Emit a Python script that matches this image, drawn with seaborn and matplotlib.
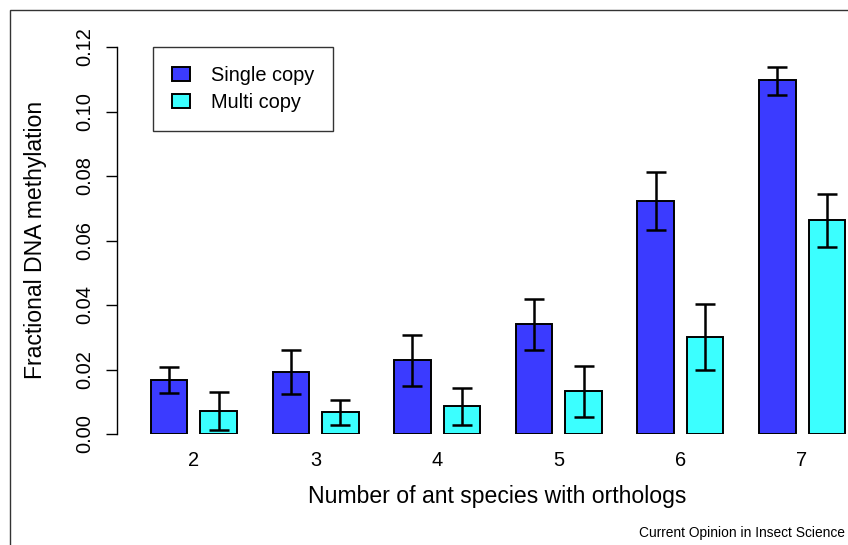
import numpy as np
import pandas as pd
import matplotlib
matplotlib.use("Agg")
import matplotlib.pyplot as plt
import seaborn as sns
from matplotlib.patches import Patch, Rectangle
from matplotlib.container import BarContainer

# ---- data ----
species = ["2", "3", "4", "5", "6", "7"]
series = ["Single copy", "Multi copy"]
single_mean = [0.0167, 0.0193, 0.0229, 0.0341, 0.0723, 0.1098]
single_lo = [0.0127, 0.0123, 0.0150, 0.0261, 0.0633, 0.1051]
single_hi = [0.0208, 0.0261, 0.0307, 0.0420, 0.0813, 0.1138]
multi_mean = [0.0071, 0.0069, 0.0087, 0.0132, 0.0301, 0.0663]
multi_lo = [0.0012, 0.0029, 0.0027, 0.0054, 0.0198, 0.0581]
multi_hi = [0.0129, 0.0104, 0.0144, 0.0210, 0.0404, 0.0744]
colors = ["#3B3BFF", "#3BFFFF"]
y_ticks = [0.00, 0.02, 0.04, 0.06, 0.08, 0.10, 0.12]

sns.set_theme(style="white")
plt.rcParams["font.family"] = ["Liberation Sans", "DejaVu Sans"]
plt.rcParams["text.color"] = "black"
plt.rcParams["xtick.color"] = "black"
plt.rcParams["ytick.color"] = "black"
plt.rcParams["xtick.labelcolor"] = "black"
plt.rcParams["ytick.labelcolor"] = "black"
plt.rcParams["legend.labelcolor"] = "black"

df = pd.DataFrame({
    "species": species * 2,
    "series": [series[0]] * len(species) + [series[1]] * len(species),
    "value": single_mean + multi_mean,
})
lows = [single_lo, multi_lo]
highs = [single_hi, multi_hi]
means = [single_mean, multi_mean]

W, H = 848, 545
fig = plt.figure(figsize=(W / 100, H / 100), dpi=100)
ax = fig.add_axes([117 / W, (H - 434) / H, (848 - 117) / W, 387 / H])

sns.barplot(data=df, x="species", y="value", hue="series", order=species,
            hue_order=series, palette=colors, width=0.814, gap=0.263,
            edgecolor="black", linewidth=1.4, errorbar=None, legend=False,
            saturation=1, ax=ax)

bar_conts = [c for c in ax.containers if isinstance(c, BarContainer)]
for ci, cont in enumerate(bar_conts):
    xs = [b.get_x() + b.get_width() / 2 for b in cont.patches]
    m = np.array(means[ci])
    lo = np.array(lows[ci])
    hi = np.array(highs[ci])
    ax.errorbar(xs, m, yerr=[m - lo, hi - m], fmt="none", ecolor="black",
                elinewidth=1.8, capsize=7.1, capthick=1.8, clip_on=False, zorder=5)

ax.set_xlim(-0.633, 5.378)
ax.set_ylim(0, 0.12)
ax.set_yticks(y_ticks)
ax.set_yticklabels([f"{t:.2f}" for t in y_ticks])
for s in ["top", "right", "bottom"]:
    ax.spines[s].set_visible(False)
ax.spines["left"].set_color("black")
ax.spines["left"].set_linewidth(1.0)
ax.spines["left"].set_bounds(0, 0.12)
ax.tick_params(axis="y", direction="out", length=8.1, width=1.0, color="black",
               labelsize=14.4, pad=8, left=True, labelcolor="black")
ax.tick_params(axis="x", length=0, labelsize=14.4, pad=12, labelcolor="black")
for lab in ax.get_yticklabels():
    lab.set_rotation(90)
    lab.set_va("center")
ax.set_xlabel("")
ax.set_ylabel("")

fig.text(497 / W, 1 - 497 / H, "Number of ant species with orthologs",
         ha="center", va="center", fontsize=16.6, color="black")
fig.text(36 / W, 1 - 240 / H, "Fractional DNA methylation", rotation=90,
         ha="center", va="center", fontsize=16.6, color="black")
fig.text(845 / W, 1 - 533 / H, "Current Opinion in Insect Science",
         ha="right", va="center", fontsize=9.9, color="black")

handles = [Patch(facecolor=c, edgecolor="black", linewidth=1.4) for c in colors]
leg = ax.legend(handles, series, loc="upper left",
                bbox_to_anchor=(153 / W, 1 - 47 / H), bbox_transform=fig.transFigure,
                borderaxespad=0, frameon=True, fancybox=False, edgecolor="black",
                fontsize=14.4, handlelength=0.9, handleheight=0.7,
                handletextpad=1.05, borderpad=0.95, labelspacing=0.38,
                labelcolor="black")
leg.get_frame().set_linewidth(1.0)

fig.add_artist(Rectangle((10 / W, -0.1), 2, 1 - 10 / H + 0.1, transform=fig.transFigure,
                         fill=False, edgecolor="#333333", linewidth=1.0, clip_on=False))

fig.savefig("out.png", dpi=100)
